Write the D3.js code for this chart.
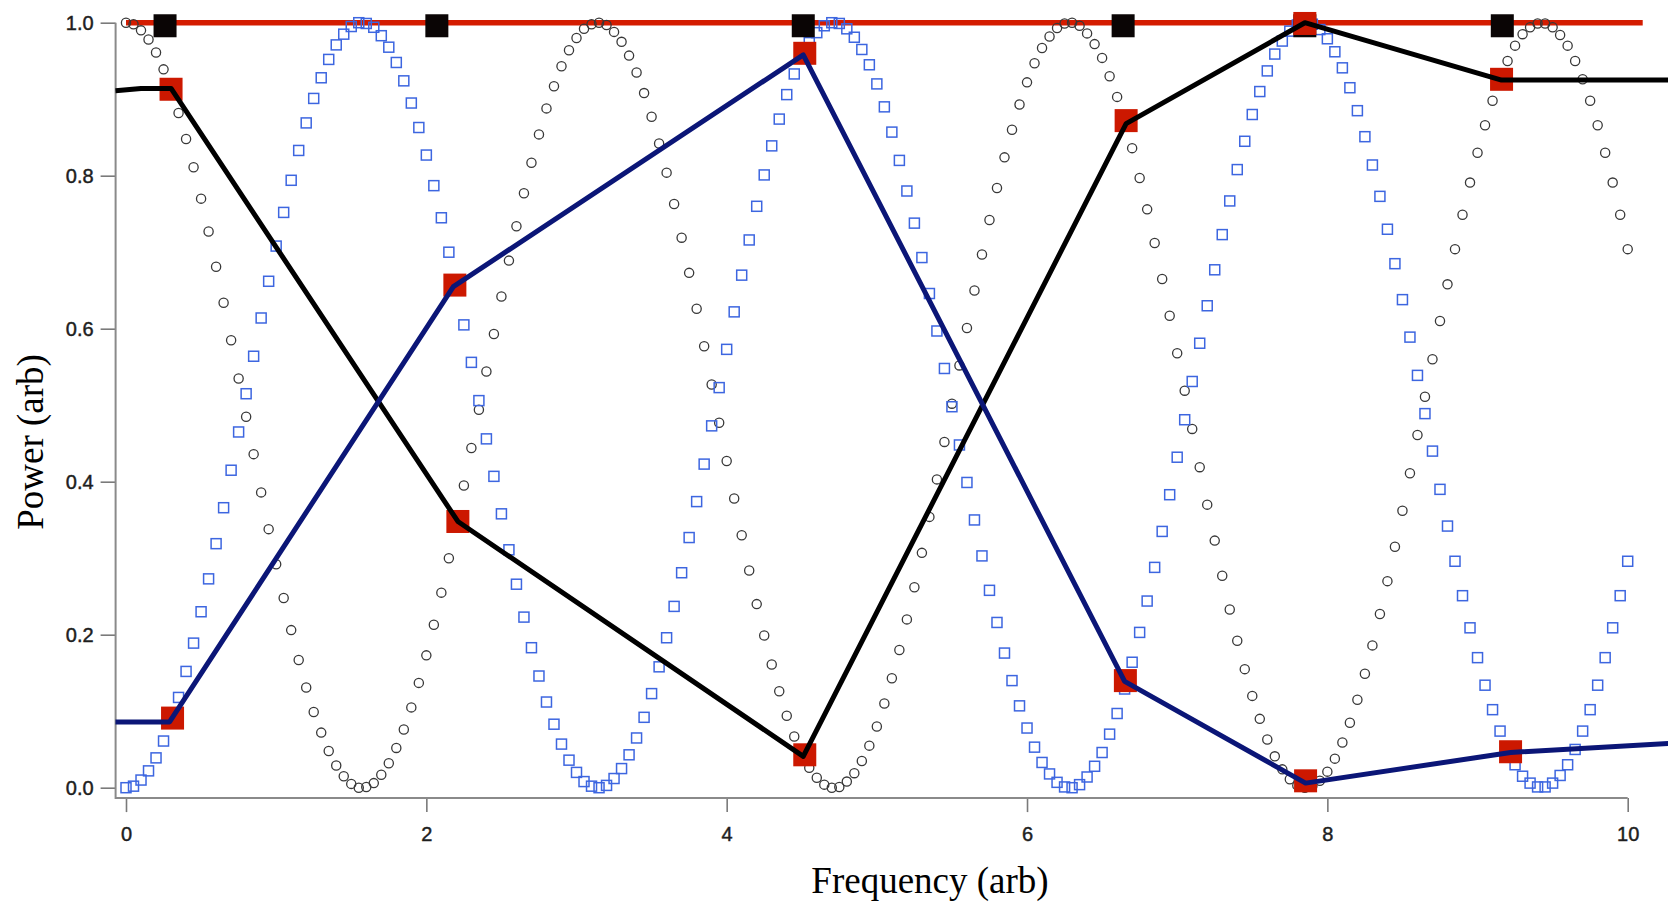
<!doctype html>
<html lang="en">
<head>
    <meta charset="utf-8">
    <title>Power vs Frequency</title>
    <script src="https://d3js.org/d3.v7.min.js"></script>
    <style type="text/css">
        body { margin: 0; background: #fff; }
        .tick text { font-family: "Liberation Sans", Arial, sans-serif; font-size: 20px; fill: #1e1e1e; stroke: #1e1e1e; stroke-width: 0.45px; }
        .tick line { stroke: #7a7a7a; stroke-width: 1.6; }
        .axis-title { font-family: "Liberation Serif", "Times New Roman", serif; font-size: 37px; fill: #000; }
    </style>
</head>

<body>
</body>

<script type="text/javascript">

    var width  = 1668;
    var height = 902;

    // sampled curves, one point every 0.05 in frequency, starting at 0
    var freqStep = 0.05;

    var circleValues = [
        1.000, 0.998, 0.990, 0.978, 0.961, 0.939, 0.913, 0.882, 0.848, 0.811,
        0.770, 0.727, 0.681, 0.634, 0.585, 0.535, 0.485, 0.436, 0.386, 0.338,
        0.292, 0.248, 0.206, 0.167, 0.131, 0.099, 0.072, 0.048, 0.029, 0.015,
        0.005, 0.000, 0.001, 0.006, 0.017, 0.032, 0.052, 0.076, 0.105, 0.137,
        0.173, 0.213, 0.255, 0.300, 0.346, 0.395, 0.444, 0.494, 0.544, 0.593,
        0.642, 0.689, 0.734, 0.777, 0.817, 0.854, 0.888, 0.917, 0.943, 0.964,
        0.980, 0.992, 0.998, 1.000, 0.997, 0.988, 0.975, 0.957, 0.935, 0.908,
        0.877, 0.842, 0.804, 0.763, 0.719, 0.673, 0.626, 0.577, 0.527, 0.477,
        0.427, 0.378, 0.330, 0.284, 0.240, 0.199, 0.161, 0.126, 0.094, 0.067,
        0.044, 0.026, 0.013, 0.004, 0.000, 0.001, 0.008, 0.019, 0.035, 0.055,
        0.080, 0.110, 0.143, 0.180, 0.220, 0.262, 0.307, 0.354, 0.403, 0.452,
        0.502, 0.552, 0.601, 0.650, 0.697, 0.742, 0.784, 0.824, 0.860, 0.893,
        0.922, 0.947, 0.967, 0.982, 0.993, 0.999, 1.000, 0.996, 0.986, 0.972,
        0.954, 0.930, 0.903, 0.871, 0.836, 0.797, 0.756, 0.712, 0.665, 0.617,
        0.568, 0.519, 0.469, 0.419, 0.370, 0.323, 0.277, 0.233, 0.192, 0.155,
        0.120, 0.090, 0.063, 0.041, 0.024, 0.011, 0.003, 0.000, 0.002, 0.009,
        0.021, 0.038, 0.059, 0.085, 0.115, 0.149, 0.186, 0.227, 0.270, 0.315,
        0.362, 0.411, 0.461, 0.511, 0.560, 0.610, 0.658, 0.704, 0.749, 0.791,
        0.830, 0.866, 0.898, 0.926, 0.950, 0.970, 0.985, 0.994, 0.999, 0.999,
        0.994, 0.984, 0.970, 0.950, 0.926, 0.898, 0.866, 0.830, 0.791, 0.749,
        0.704
    ];

    var squareValues = [
        0.000, 0.002, 0.010, 0.022, 0.039, 0.061, 0.087, 0.118, 0.152, 0.189,
        0.230, 0.273, 0.319, 0.366, 0.415, 0.465, 0.515, 0.564, 0.614, 0.662,
        0.708, 0.752, 0.794, 0.833, 0.869, 0.901, 0.928, 0.952, 0.971, 0.985,
        0.995, 1.000, 0.999, 0.994, 0.983, 0.968, 0.948, 0.924, 0.895, 0.863,
        0.827, 0.787, 0.745, 0.700, 0.654, 0.605, 0.556, 0.506, 0.456, 0.407,
        0.358, 0.311, 0.266, 0.223, 0.183, 0.146, 0.112, 0.083, 0.057, 0.036,
        0.020, 0.008, 0.002, 0.000, 0.003, 0.012, 0.025, 0.043, 0.065, 0.092,
        0.123, 0.158, 0.196, 0.237, 0.281, 0.327, 0.374, 0.423, 0.473, 0.523,
        0.573, 0.622, 0.670, 0.716, 0.760, 0.801, 0.839, 0.874, 0.906, 0.933,
        0.956, 0.974, 0.987, 0.996, 1.000, 0.999, 0.992, 0.981, 0.965, 0.945,
        0.920, 0.890, 0.857, 0.820, 0.780, 0.738, 0.693, 0.646, 0.597, 0.548,
        0.498, 0.448, 0.399, 0.350, 0.303, 0.258, 0.216, 0.176, 0.140, 0.107,
        0.078, 0.053, 0.033, 0.018, 0.007, 0.001, 0.000, 0.004, 0.014, 0.028,
        0.046, 0.070, 0.097, 0.129, 0.164, 0.203, 0.244, 0.288, 0.335, 0.383,
        0.432, 0.481, 0.531, 0.581, 0.630, 0.677, 0.723, 0.767, 0.808, 0.845,
        0.880, 0.910, 0.937, 0.959, 0.976, 0.989, 0.997, 1.000, 0.998, 0.991,
        0.979, 0.962, 0.941, 0.915, 0.885, 0.851, 0.814, 0.773, 0.730, 0.685,
        0.638, 0.589, 0.539, 0.489, 0.440, 0.390, 0.342, 0.296, 0.251, 0.209,
        0.170, 0.134, 0.102, 0.074, 0.050, 0.030, 0.015, 0.006, 0.001, 0.001,
        0.006, 0.016, 0.030, 0.050, 0.074, 0.102, 0.134, 0.170, 0.209, 0.251,
        0.296
    ];

    // polylines
    var blackLineX = [-0.07, 0.10, 0.30, 2.21, 4.51, 6.66, 7.85, 9.16, 10.28];
    var blackLineY = [0.911, 0.914, 0.914, 0.348, 0.041, 0.868, 1.000, 0.925, 0.925];

    var blueLineX = [-0.07, 0.29, 2.18, 4.51, 6.65, 7.855, 9.22, 10.28];
    var blueLineY = [0.086, 0.086, 0.655, 0.958, 0.139, 0.006, 0.046, 0.058];

    var redLineX = [0, 10.1];
    var redLineY = [1, 1];

    // big markers
    var redSquareX = [0.30, 2.21, 4.52, 6.66, 7.85, 9.16, 0.31, 2.19, 4.52, 6.655, 7.855, 9.22];
    var redSquareY = [0.913, 0.348, 0.043, 0.872, 0.999, 0.926, 0.091, 0.657, 0.960, 0.140, 0.009, 0.047];

    var blackSquareX = [0.26, 2.07, 4.51, 6.64, 7.85, 9.165];
    var blackSquareY = [0.996, 0.996, 0.996, 0.996, 0.996, 0.996];

    var xTicks = [0, 2, 4, 6, 8, 10];
    var yTicks = [0, 0.2, 0.4, 0.6, 0.8, 1.0];

    var x = d3.scaleLinear().domain([0, 10]).range([126, 1627.7]);
    var y = d3.scaleLinear().domain([0, 1]).range([787.7, 22.7]);
    var axisGap = 10.4;

    var svg = d3.select("body")
        .append("svg")
        .attr("width", width)
        .attr("height", height)
        .style("background", "#fff");

    var zip = (xs, ys) => xs.map((d, i) => [d, ys[i]]);
    var line = d3.line().x(d => x(d[0])).y(d => y(d[1]));

    // axes
    var xAxisY = y(0) + axisGap;
    var yAxisX = x(0) - axisGap;

    svg.append("g")
        .attr("transform", "translate(0," + xAxisY + ")")
        .call(d3.axisBottom(x).tickValues(xTicks).tickFormat(d3.format("d"))
            .tickSize(14).tickSizeOuter(0).tickPadding(15))
        .call(g => g.select(".domain").remove());

    svg.append("g")
        .attr("transform", "translate(" + yAxisX + ",0)")
        .call(d3.axisLeft(y).tickValues(yTicks).tickFormat(d3.format(".1f"))
            .tickSize(15).tickSizeOuter(0).tickPadding(7))
        .call(g => g.select(".domain").remove());

    svg.append("line")
        .attr("x1", yAxisX).attr("x2", x(10))
        .attr("y1", xAxisY).attr("y2", xAxisY)
        .attr("stroke", "#8a8a8a").attr("stroke-width", 2);

    svg.append("line")
        .attr("x1", yAxisX).attr("x2", yAxisX)
        .attr("y1", y(1)).attr("y2", xAxisY + 1)
        .attr("stroke", "#8a8a8a").attr("stroke-width", 2);

    // red reference line
    svg.append("path")
        .datum(zip(redLineX, redLineY))
        .attr("d", line)
        .attr("fill", "none")
        .attr("stroke", "#d41c00")
        .attr("stroke-width", 5.5);

    // open circles
    svg.selectAll(".circ")
        .data(circleValues)
        .enter()
        .append("circle")
        .attr("class", "circ")
        .attr("cx", (d, i) => x(i * freqStep))
        .attr("cy", d => y(d))
        .attr("r", 4.6)
        .attr("fill", "none")
        .attr("stroke", "#383838")
        .attr("stroke-width", 1.3);

    // open blue squares
    var sq = 10;
    svg.selectAll(".bsq")
        .data(squareValues)
        .enter()
        .append("rect")
        .attr("class", "bsq")
        .attr("x", (d, i) => x(i * freqStep) - sq / 2)
        .attr("y", d => y(d) - sq / 2)
        .attr("width", sq)
        .attr("height", sq)
        .attr("fill", "none")
        .attr("stroke", "#3d66e0")
        .attr("stroke-width", 1.5);

    // black squares on the top line
    var big = 23;
    svg.selectAll(".ksq")
        .data(zip(blackSquareX, blackSquareY))
        .enter()
        .append("rect")
        .attr("class", "ksq")
        .attr("x", d => x(d[0]) - big / 2)
        .attr("y", d => y(d[1]) - big / 2)
        .attr("width", big)
        .attr("height", big)
        .attr("fill", "#0a0505");

    // red squares
    svg.selectAll(".rsq")
        .data(zip(redSquareX, redSquareY))
        .enter()
        .append("rect")
        .attr("class", "rsq")
        .attr("x", d => x(d[0]) - big / 2)
        .attr("y", d => y(d[1]) - big / 2)
        .attr("width", big)
        .attr("height", big)
        .attr("fill", "#cc1800");

    // connecting lines
    svg.append("path")
        .datum(zip(blackLineX, blackLineY))
        .attr("d", line)
        .attr("fill", "none")
        .attr("stroke", "#000")
        .attr("stroke-width", 5)
        .attr("stroke-linejoin", "round");

    svg.append("path")
        .datum(zip(blueLineX, blueLineY))
        .attr("d", line)
        .attr("fill", "none")
        .attr("stroke", "#0b1677")
        .attr("stroke-width", 5)
        .attr("stroke-linejoin", "round");

    // axis titles
    svg.append("text")
        .attr("class", "axis-title")
        .attr("x", 930)
        .attr("y", 893)
        .attr("text-anchor", "middle")
        .text("Frequency (arb)");

    svg.append("text")
        .attr("class", "axis-title")
        .attr("transform", "translate(43,442) rotate(-90)")
        .attr("text-anchor", "middle")
        .text("Power (arb)");

</script>

</html>
